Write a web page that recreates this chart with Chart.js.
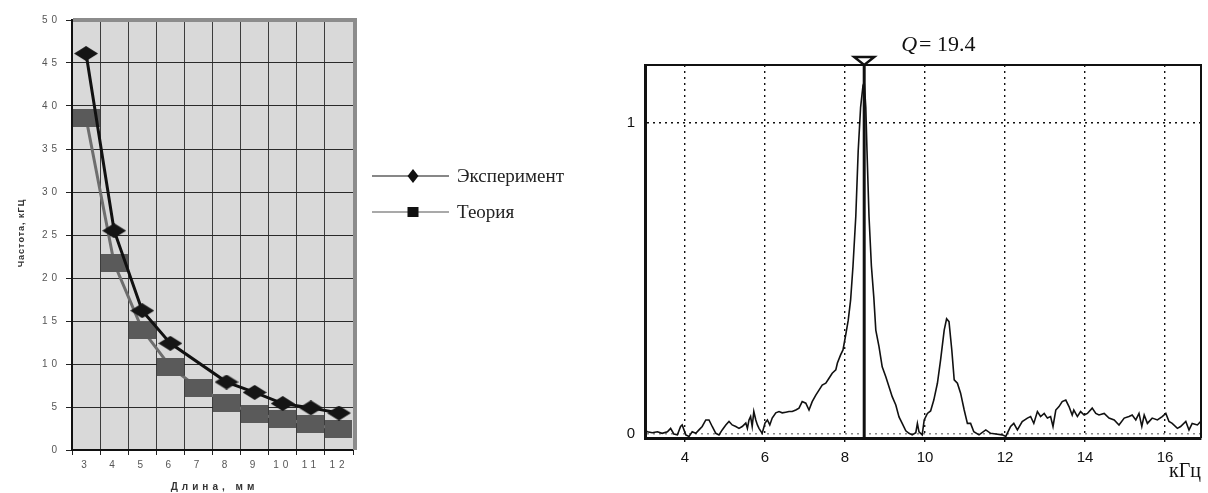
<!DOCTYPE html>
<html lang="ru">
<head>
  <meta charset="UTF-8">
  <title>Частота и спектр</title>
  <script src="https://cdn.jsdelivr.net/npm/chart.js@4.4.1/dist/chart.umd.min.js"></script>
  <style>
    body {
      margin: 0;
      background: #fff;
      width: 1208px;
      height: 493px;
      overflow: hidden;
    }
    .box {
      position: absolute;
      top: 0;
      height: 493px;
    }
    #left { left: 0; width: 600px; }
    #right { left: 600px; width: 608px; }
  </style>
</head>
<body>

  <!-- Frequency vs length -->
  <div class="box" id="left"><canvas id="lengthChart"></canvas></div>

  <!-- Spectrum -->
  <div class="box" id="right"><canvas id="spectrumChart"></canvas></div>

  <script>
    // Length, mm
    const lengths = [3, 4, 5, 6, 7, 8, 9, 10, 11, 12];
    // Frequency, kHz (no measurement at 7 mm)
    const experiment = [46.1, 25.5, 16.2, 12.4, null, 7.9, 6.7, 5.4, 4.9, 4.3];
    const theory = [38.6, 21.7, 14.0, 9.7, 7.2, 5.5, 4.2, 3.6, 3.0, 2.4];

    // Spectrum: frequency (kHz) and amplitude
    const freqKHz = [
      2.98, 3.06, 3.18, 3.31, 3.43, 3.56, 3.64, 3.72, 3.81, 3.89, 3.93, 4.02, 4.10, 4.18, 4.27, 4.35,
      4.43, 4.52, 4.60, 4.68, 4.77, 4.85, 4.93, 5.02, 5.10, 5.18, 5.27, 5.35, 5.43, 5.52, 5.56, 5.60,
      5.64, 5.68, 5.72, 5.77, 5.81, 5.85, 5.93, 6.00, 6.06, 6.12, 6.18, 6.27, 6.35, 6.43, 6.52, 6.60,
      6.68, 6.77, 6.85, 6.93, 7.02, 7.10, 7.18, 7.27, 7.35, 7.43, 7.52, 7.60, 7.68, 7.77, 7.81, 7.89,
      7.95, 8.02, 8.08, 8.14, 8.20, 8.27, 8.33, 8.39, 8.45, 8.48, 8.52, 8.55, 8.60, 8.66, 8.72, 8.77,
      8.85, 8.93, 9.02, 9.10, 9.18, 9.27, 9.35, 9.43, 9.52, 9.60, 9.68, 9.77, 9.81, 9.85, 9.93, 9.98,
      10.06, 10.14, 10.22, 10.31, 10.39, 10.48, 10.54, 10.60, 10.67, 10.73, 10.81, 10.89, 10.98, 11.06,
      11.14, 11.22, 11.35, 11.52, 11.64, 11.77, 11.93, 12.02, 12.14, 12.22, 12.31, 12.43, 12.56, 12.64,
      12.72, 12.81, 12.89, 12.98, 13.06, 13.14, 13.20, 13.27, 13.35, 13.43, 13.52, 13.60, 13.68, 13.72,
      13.81, 13.89, 13.98, 14.06, 14.18, 14.27, 14.35, 14.48, 14.60, 14.73, 14.85, 14.98, 15.10, 15.18,
      15.27, 15.35, 15.42, 15.48, 15.56, 15.68, 15.81, 15.93, 16.02, 16.10, 16.18, 16.31, 16.39, 16.52,
      16.60, 16.68, 16.81, 16.89
    ];
    const amplitude = [
      0.013, 0.007, 0.004, 0.007, 0.002, 0.007, 0.018, 0.000, -0.003, 0.024, 0.029, -0.003, -0.008, 0.007, 0.002, 0.013,
      0.024, 0.045, 0.045, 0.024, 0.002, -0.003, 0.013, 0.029, 0.040, 0.029, 0.024, 0.018, 0.024, 0.035, 0.018, 0.045,
      0.056, 0.024, 0.072, 0.045, 0.029, 0.018, 0.002, 0.035, 0.045, 0.029, 0.051, 0.068, 0.072, 0.068, 0.070, 0.072,
      0.072, 0.077, 0.083, 0.104, 0.099, 0.077, 0.104, 0.125, 0.141, 0.157, 0.163, 0.179, 0.195, 0.206, 0.228, 0.254,
      0.270, 0.320, 0.365, 0.430, 0.540, 0.700, 0.910, 1.050, 1.120, 1.130, 1.050, 0.910, 0.700, 0.540, 0.440, 0.334,
      0.281, 0.216, 0.184, 0.152, 0.120, 0.093, 0.055, 0.034, 0.010, 0.002, -0.003, 0.004, 0.034, 0.007, -0.003, 0.045,
      0.066, 0.074, 0.109, 0.163, 0.238, 0.334, 0.370, 0.361, 0.270, 0.174, 0.163, 0.131, 0.077, 0.034,
      0.034, 0.007, -0.003, 0.013, 0.002, 0.000, -0.003, -0.008, 0.024, 0.034, 0.013, 0.040, 0.051, 0.056,
      0.034, 0.072, 0.056, 0.066, 0.051, 0.056, 0.024, 0.077, 0.088, 0.104, 0.109, 0.088, 0.061, 0.077,
      0.056, 0.072, 0.061, 0.066, 0.083, 0.066, 0.061, 0.066, 0.051, 0.045, 0.029, 0.051, 0.056, 0.061,
      0.045, 0.066, 0.024, 0.061, 0.034, 0.051, 0.045, 0.056, 0.066, 0.040, 0.034, 0.018, 0.024, 0.040,
      0.013, 0.034, 0.029, 0.040
    ];
    const freqTicks = [4, 6, 8, 10, 12, 14, 16];
    const ampTicks = [0, 1];
    const peakFreq = 8.48;
    const qFactor = 19.4;

    // Marker images for the left chart
    function markerCanvas(w, h, color, shape) {
      const c = document.createElement('canvas');
      c.width = w;
      c.height = h;
      const g = c.getContext('2d');
      g.fillStyle = color;
      if (shape === 'diamond') {
        g.beginPath();
        g.moveTo(w / 2, 0);
        g.lineTo(w, h / 2);
        g.lineTo(w / 2, h);
        g.lineTo(0, h / 2);
        g.closePath();
        g.fill();
      } else {
        g.fillRect(0, 0, w, h);
      }
      return c;
    }

    const bigDiamond = markerCanvas(24, 15, '#151515', 'diamond');
    const bigSquare = markerCanvas(27, 18, '#5a5a5a', 'square');

    // Gray plot background, shaded frame, titles and legend
    const plotFrame = {
      id: 'plotFrame',
      beforeDraw(chart) {
        const { ctx, chartArea: a } = chart;
        ctx.save();
        ctx.fillStyle = '#d9d9d9';
        ctx.fillRect(a.left, a.top, a.right - a.left, a.bottom - a.top);
        ctx.restore();
        ctx.letterSpacing = '4px';
      },
      beforeDatasetsDraw(chart) {
        const { ctx, chartArea: a } = chart;
        ctx.save();
        ctx.strokeStyle = '#8c8c8c';
        ctx.lineWidth = 4;
        ctx.beginPath();
        ctx.moveTo(a.left + 1, a.top);
        ctx.lineTo(a.right + 2, a.top);
        ctx.lineTo(a.right + 2, a.bottom);
        ctx.stroke();
        ctx.restore();
      },
      afterDraw(chart) {
        const { ctx, chartArea: a } = chart;
        ctx.save();
        ctx.fillStyle = '#333';
        ctx.textAlign = 'center';
        ctx.textBaseline = 'middle';

        // axis titles
        ctx.letterSpacing = '4px';
        ctx.font = 'bold 10px Arial';
        ctx.fillText('Длина, мм', (a.left + a.right) / 2 + 2, a.bottom + 37);

        ctx.letterSpacing = '1px';
        ctx.font = 'bold 9px Arial';
        ctx.save();
        ctx.translate(a.left - 50, (a.top + a.bottom) / 2 - 2);
        ctx.rotate(-Math.PI / 2);
        ctx.fillText('Частота, кГЦ', 0, 0);
        ctx.restore();

        // legend
        ctx.letterSpacing = '0px';
        const lx = a.right + 19;
        const rows = [
          { text: 'Эксперимент', y: a.top + 156, line: '#111', mark: 'diamond' },
          { text: 'Теория', y: a.top + 192, line: '#555', mark: 'square' }
        ];
        rows.forEach(r => {
          ctx.strokeStyle = r.line;
          ctx.lineWidth = 1.2;
          ctx.beginPath();
          ctx.moveTo(lx, r.y);
          ctx.lineTo(lx + 77, r.y);
          ctx.stroke();
          ctx.fillStyle = '#111';
          const mx = lx + 41;
          if (r.mark === 'diamond') {
            ctx.beginPath();
            ctx.moveTo(mx, r.y - 7);
            ctx.lineTo(mx + 5.5, r.y);
            ctx.lineTo(mx, r.y + 7);
            ctx.lineTo(mx - 5.5, r.y);
            ctx.closePath();
            ctx.fill();
          } else {
            ctx.fillRect(mx - 5.5, r.y - 5, 11, 10);
          }
          ctx.fillStyle = '#222';
          ctx.textAlign = 'left';
          ctx.font = '19px "Liberation Serif"';
          ctx.fillText(r.text, lx + 85, r.y + 1);
        });
        ctx.restore();
      }
    };

    new Chart(document.getElementById('lengthChart'), {
      type: 'line',
      data: {
        labels: lengths,
        datasets: [
          {
            label: 'Эксперимент',
            data: experiment,
            borderColor: '#111',
            borderWidth: 3,
            pointStyle: bigDiamond,
            spanGaps: true,
            tension: 0
          },
          {
            label: 'Теория',
            data: theory,
            borderColor: '#6e6e6e',
            borderWidth: 3,
            pointStyle: bigSquare,
            tension: 0
          }
        ]
      },
      options: {
        responsive: true,
        maintainAspectRatio: false,
        animation: false,
        layout: { padding: { top: 20, right: 247 } },
        plugins: {
          legend: { display: false },
          tooltip: { enabled: false }
        },
        scales: {
          x: {
            offset: true,
            grid: { offset: true, color: '#3c3c3c', tickLength: 5, tickColor: '#222' },
            border: { color: '#111', width: 2 },
            ticks: { color: '#555', font: { family: 'Arial', size: 10 }, padding: 4, maxRotation: 0 },
            afterFit: s => { s.height = 43; }
          },
          y: {
            min: 0,
            max: 50,
            grid: { color: '#2a2a2a', tickLength: 6, tickColor: '#222' },
            border: { color: '#111', width: 2 },
            ticks: { stepSize: 5, color: '#555', font: { family: 'Arial', size: 10 }, padding: 5 },
            afterFit: s => { s.width = 72; }
          }
        }
      },
      plugins: [plotFrame]
    });

    // Frame, peak marker and Q label for the spectrum
    const peakMarker = {
      id: 'peakMarker',
      afterDraw(chart) {
        const { ctx, chartArea: a, scales: { x } } = chart;
        ctx.save();
        ctx.strokeStyle = '#111';
        ctx.lineWidth = 2;
        ctx.beginPath();
        ctx.moveTo(a.left, a.top);
        ctx.lineTo(a.right, a.top);
        ctx.lineTo(a.right, a.bottom);
        ctx.stroke();

        const px = x.getPixelForValue(peakFreq);
        ctx.lineWidth = 3;
        ctx.beginPath();
        ctx.moveTo(px, a.top - 2);
        ctx.lineTo(px, a.bottom);
        ctx.stroke();

        ctx.lineWidth = 2.5;
        ctx.fillStyle = '#fff';
        ctx.beginPath();
        ctx.moveTo(px - 10, a.top - 8);
        ctx.lineTo(px + 10, a.top - 8);
        ctx.lineTo(px, a.top);
        ctx.closePath();
        ctx.fill();
        ctx.stroke();

        ctx.fillStyle = '#111';
        ctx.textBaseline = 'alphabetic';
        const qx = px + 37;
        const qy = a.top - 14;
        ctx.font = 'italic 22px "Liberation Serif"';
        ctx.fillText('Q', qx, qy);
        const qw = ctx.measureText('Q').width;
        ctx.font = '22px "Liberation Serif"';
        ctx.fillText('= ' + qFactor, qx + qw + 2, qy);
        ctx.restore();
      }
    };

    new Chart(document.getElementById('spectrumChart'), {
      type: 'scatter',
      data: {
        datasets: [{
          data: freqKHz.map((f, i) => ({ x: f, y: amplitude[i] })),
          showLine: true,
          borderColor: '#111',
          borderWidth: 1.6,
          pointRadius: 0,
          tension: 0
        }]
      },
      options: {
        responsive: true,
        maintainAspectRatio: false,
        animation: false,
        layout: { padding: { top: 65, right: 7 } },
        plugins: {
          legend: { display: false },
          tooltip: { enabled: false }
        },
        scales: {
          x: {
            type: 'linear',
            min: 3,
            max: 16.9,
            afterBuildTicks: s => { s.ticks = freqTicks.map(v => ({ value: v })); },
            grid: { color: '#111', lineWidth: 1.4, tickLength: 4, tickColor: '#111', tickBorderDash: [] },
            border: { color: '#111', width: 3, dash: [2, 4] },
            ticks: { color: '#111', font: { family: 'Arial', size: 15 }, padding: 7, maxRotation: 0 },
            title: {
              display: true,
              text: 'кГц',
              align: 'end',
              color: '#111',
              font: { family: 'Liberation Serif', size: 20 },
              padding: { bottom: 9 }
            },
            afterFit: s => { s.height = 55; }
          },
          y: {
            min: -0.013,
            max: 1.186,
            afterBuildTicks: s => { s.ticks = ampTicks.map(v => ({ value: v })); },
            grid: {
              color: c => (c.tick && c.tick.value === 0 ? '#8a8a8a' : '#111'),
              lineWidth: 1.4,
              drawTicks: false
            },
            border: { color: '#111', width: 3, dash: [2, 4] },
            ticks: { color: '#111', font: { family: 'Arial', size: 15 }, padding: 10 },
            afterFit: s => { s.width = 45; }
          }
        }
      },
      plugins: [peakMarker]
    });
  </script>

</body>
</html>
